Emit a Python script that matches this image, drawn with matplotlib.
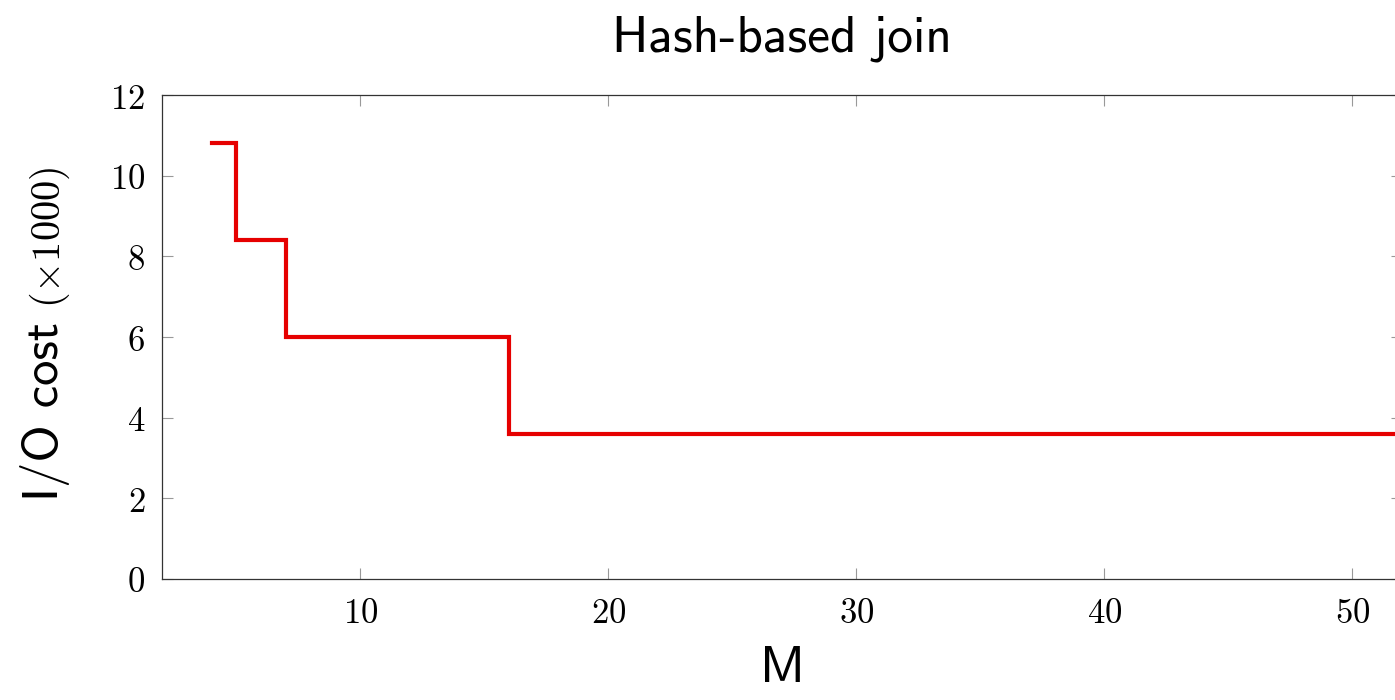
import matplotlib
matplotlib.use("Agg")
import matplotlib.pyplot as plt
from matplotlib.ticker import FuncFormatter

# Data (step function: cost holds from each M breakpoint to the next)
M_values = [4, 5, 7, 16, 60]
io_cost = [10.8, 8.4, 6.0, 3.6, 3.6]   # x1000

title = "Hash-based join"
xlabel = "M"
ylabel_main = "I/O cost"
ylabel_unit = r"$(\times 1000)$"
x_ticks = [10, 20, 30, 40, 50]
y_ticks = [0, 2, 4, 6, 8, 10, 12]

plt.rcParams['mathtext.fontset'] = 'cm'
plt.rcParams['axes.formatter.use_mathtext'] = True

W, H = 1395, 700
fig = plt.figure(figsize=(W / 100, H / 100), dpi=100)
left, right, top, bottom = 162, 1402, 95, 579
ax = fig.add_axes([left / W, 1 - bottom / H, (right - left) / W, (bottom - top) / H])

ax.plot(M_values, io_cost, drawstyle='steps-post', color='#e60000', linewidth=3.0,
        solid_joinstyle='miter', clip_on=True)

ax.set_xlim(2, 52)
ax.set_ylim(0, 12)
ax.set_xticks(x_ticks)
ax.set_yticks(y_ticks)
fmt = FuncFormatter(lambda v, p: r"$%d$" % v)
ax.xaxis.set_major_formatter(fmt)
ax.yaxis.set_major_formatter(fmt)
ax.tick_params(which='major', direction='in', length=8, width=0.8, color='#999999',
               top=True, right=True, labelsize=25, pad=12)
for s in ax.spines.values():
    s.set_color('#333333')
    s.set_linewidth(0.9)

ax.set_title(title, family='cmss10', fontsize=37, pad=31)
ax.set_xlabel(xlabel, family='cmss10', fontsize=37, labelpad=12)

# y label: two parts with different sizes, rotated
t1 = fig.text(58 / W, 1 - 501 / H, ylabel_main, family='cmss10', fontsize=36.5,
              rotation=90, rotation_mode='anchor', ha='left', va='baseline')
t2 = fig.text(60 / W, 1 - 308 / H, ylabel_unit, fontsize=29,
              rotation=90, rotation_mode='anchor', ha='left', va='baseline')

fig.savefig("out.png", dpi=100)
